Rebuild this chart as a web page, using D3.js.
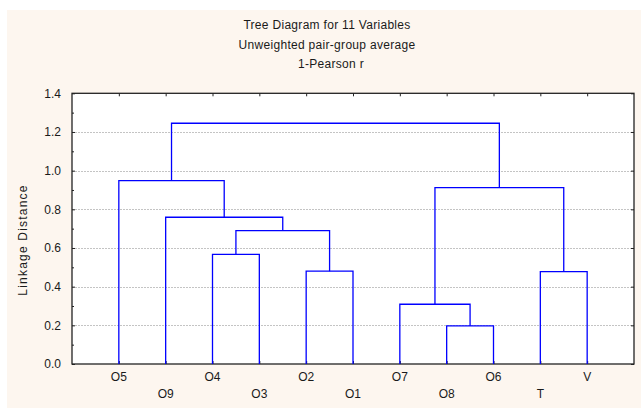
<!DOCTYPE html>
<html>
<head>
<meta charset="utf-8">
<script src="https://cdnjs.cloudflare.com/ajax/libs/d3/7.8.5/d3.min.js"></script>
<style>
	body { margin: 0; background: #fff; }
	text { font-family: Arial, "Liberation Sans", sans-serif; fill: #1a1a1a; }
</style>
</head>
<body>
<div id="chart"></div>
<script>
// leaves in dendrogram order
var leaves = ["O5", "O9", "O4", "O3", "O2", "O1", "O7", "O8", "O6", "T", "V"];
// merges: node ids 0..10 are leaves, merge k gets id 11+k
var mergeLeft = [2, 4, 11, 1, 0, 7, 6, 9, 17, 15];
var mergeRight = [3, 5, 12, 13, 14, 8, 16, 10, 18, 19];
var linkage = [0.567, 0.480, 0.690, 0.759, 0.948, 0.197, 0.309, 0.478, 0.912, 1.245];
var yTicks = [0, 0.2, 0.4, 0.6, 0.8, 1.0, 1.2, 1.4];
var titles = ["Tree Diagram for 11 Variables", "Unweighted pair-group average", "1-Pearson r"];

var W = 641, H = 408;
var plotL = 72, plotR = 634, plotT = 93.3, plotB = 364;

var svg = d3.select("#chart")
	.append("svg")
	.attr("width", W)
	.attr("height", H);

svg.append("rect")
	.attr("x", 7).attr("y", 10)
	.attr("width", W - 7).attr("height", H - 10)
	.style("fill", "#fdf6ef");

svg.append("rect")
	.attr("x", plotL).attr("y", plotT)
	.attr("width", plotR - plotL).attr("height", plotB - plotT)
	.style("fill", "#fff");

var x = d3.scalePoint().domain(leaves).range([plotL, plotR]).padding(1);
var y = d3.scaleLinear().domain([0, 1.4]).range([plotB, plotT]);

// grid
svg.selectAll(".grid")
	.data(yTicks.filter(function(d){ return d > 0 && d < 1.4; }))
	.enter()
	.append("line")
	.attr("x1", plotL).attr("x2", plotR)
	.attr("y1", function(d){ return Math.round(y(d)) + 0.5; })
	.attr("y2", function(d){ return Math.round(y(d)) + 0.5; })
	.style("stroke", "#c4c4c4")
	.style("stroke-dasharray", "2,1");

// axes
var yAxis = svg.append("g")
	.attr("transform", "translate(" + plotL + ",0)")
	.call(d3.axisLeft(y).tickValues(yTicks).tickFormat(d3.format(".1f")).tickSizeInner(-3).tickSizeOuter(0).tickPadding(11));
yAxis.select(".domain").remove();
yAxis.selectAll("text").style("font-size", "12px").style("font-family", "Arial, 'Liberation Sans', sans-serif").style("fill", "#1a1a1a");

var minor = svg.append("g")
	.attr("transform", "translate(" + plotL + ",0)")
	.call(d3.axisLeft(y).tickValues(d3.range(1, 14, 2).map(function(d){ return d / 10; })).tickFormat("").tickSizeInner(-2).tickSizeOuter(0));
minor.select(".domain").remove();

var rAxis = svg.append("g")
	.attr("transform", "translate(" + plotR + ",0)")
	.call(d3.axisRight(y).tickValues(yTicks).tickFormat("").tickSizeInner(-3).tickSizeOuter(0));
rAxis.select(".domain").remove();

var tAxis = svg.append("g")
	.attr("transform", "translate(0," + plotT + ")")
	.call(d3.axisTop(x).tickFormat("").tickSizeInner(-3).tickSizeOuter(0));
tAxis.select(".domain").remove();

var bAxis = svg.append("g")
	.attr("transform", "translate(0," + plotB + ")")
	.call(d3.axisBottom(x).tickFormat("").tickSizeInner(-3).tickSizeOuter(0));
bAxis.select(".domain").remove();

svg.selectAll(".tick line").style("stroke", "#222");

// frame
svg.append("rect")
	.attr("x", plotL).attr("y", plotT)
	.attr("width", plotR - plotL).attr("height", plotB - plotT)
	.style("fill", "none")
	.style("stroke", "#222")
	.style("stroke-width", 1.3);

// dendrogram
var nodeX = leaves.map(function(d){ return x(d); });
var nodeH = leaves.map(function(){ return 0; });
for (var i = 0; i < linkage.length; i++){
	nodeX.push((nodeX[mergeLeft[i]] + nodeX[mergeRight[i]]) / 2);
	nodeH.push(linkage[i]);
}

svg.selectAll(".link")
	.data(linkage)
	.enter()
	.append("path")
	.attr("d", function(d, i){
		var a = mergeLeft[i], b = mergeRight[i];
		return "M" + nodeX[a] + "," + y(nodeH[a]) +
			"V" + y(d) + "H" + nodeX[b] + "V" + y(nodeH[b]);
	})
	.style("fill", "none")
	.style("stroke", "#0000ff")
	.style("stroke-width", 1.3);

// leaf labels
svg.selectAll(".leaf")
	.data(leaves)
	.enter()
	.append("text")
	.attr("x", function(d){ return x(d); })
	.attr("y", function(d, i){ return i % 2 == 0 ? 381 : 397.5; })
	.attr("text-anchor", "middle")
	.style("font-size", "12px")
	.text(function(d){ return d; });

// titles
svg.selectAll(".title")
	.data(titles)
	.enter()
	.append("text")
	.attr("x", function(d, i){ return i == 2 ? 331 : 327; })
	.attr("y", function(d, i){ return 29 + i * 19.5; })
	.attr("text-anchor", "middle")
	.style("font-size", "12px")
	.style("letter-spacing", "0.3px")
	.text(function(d){ return d; });

svg.append("text")
	.attr("transform", "translate(27,240) rotate(-90)")
	.attr("text-anchor", "middle")
	.style("font-size", "12px")
	.style("letter-spacing", "1.2px")
	.text("Linkage Distance");
</script>
</body>
</html>
